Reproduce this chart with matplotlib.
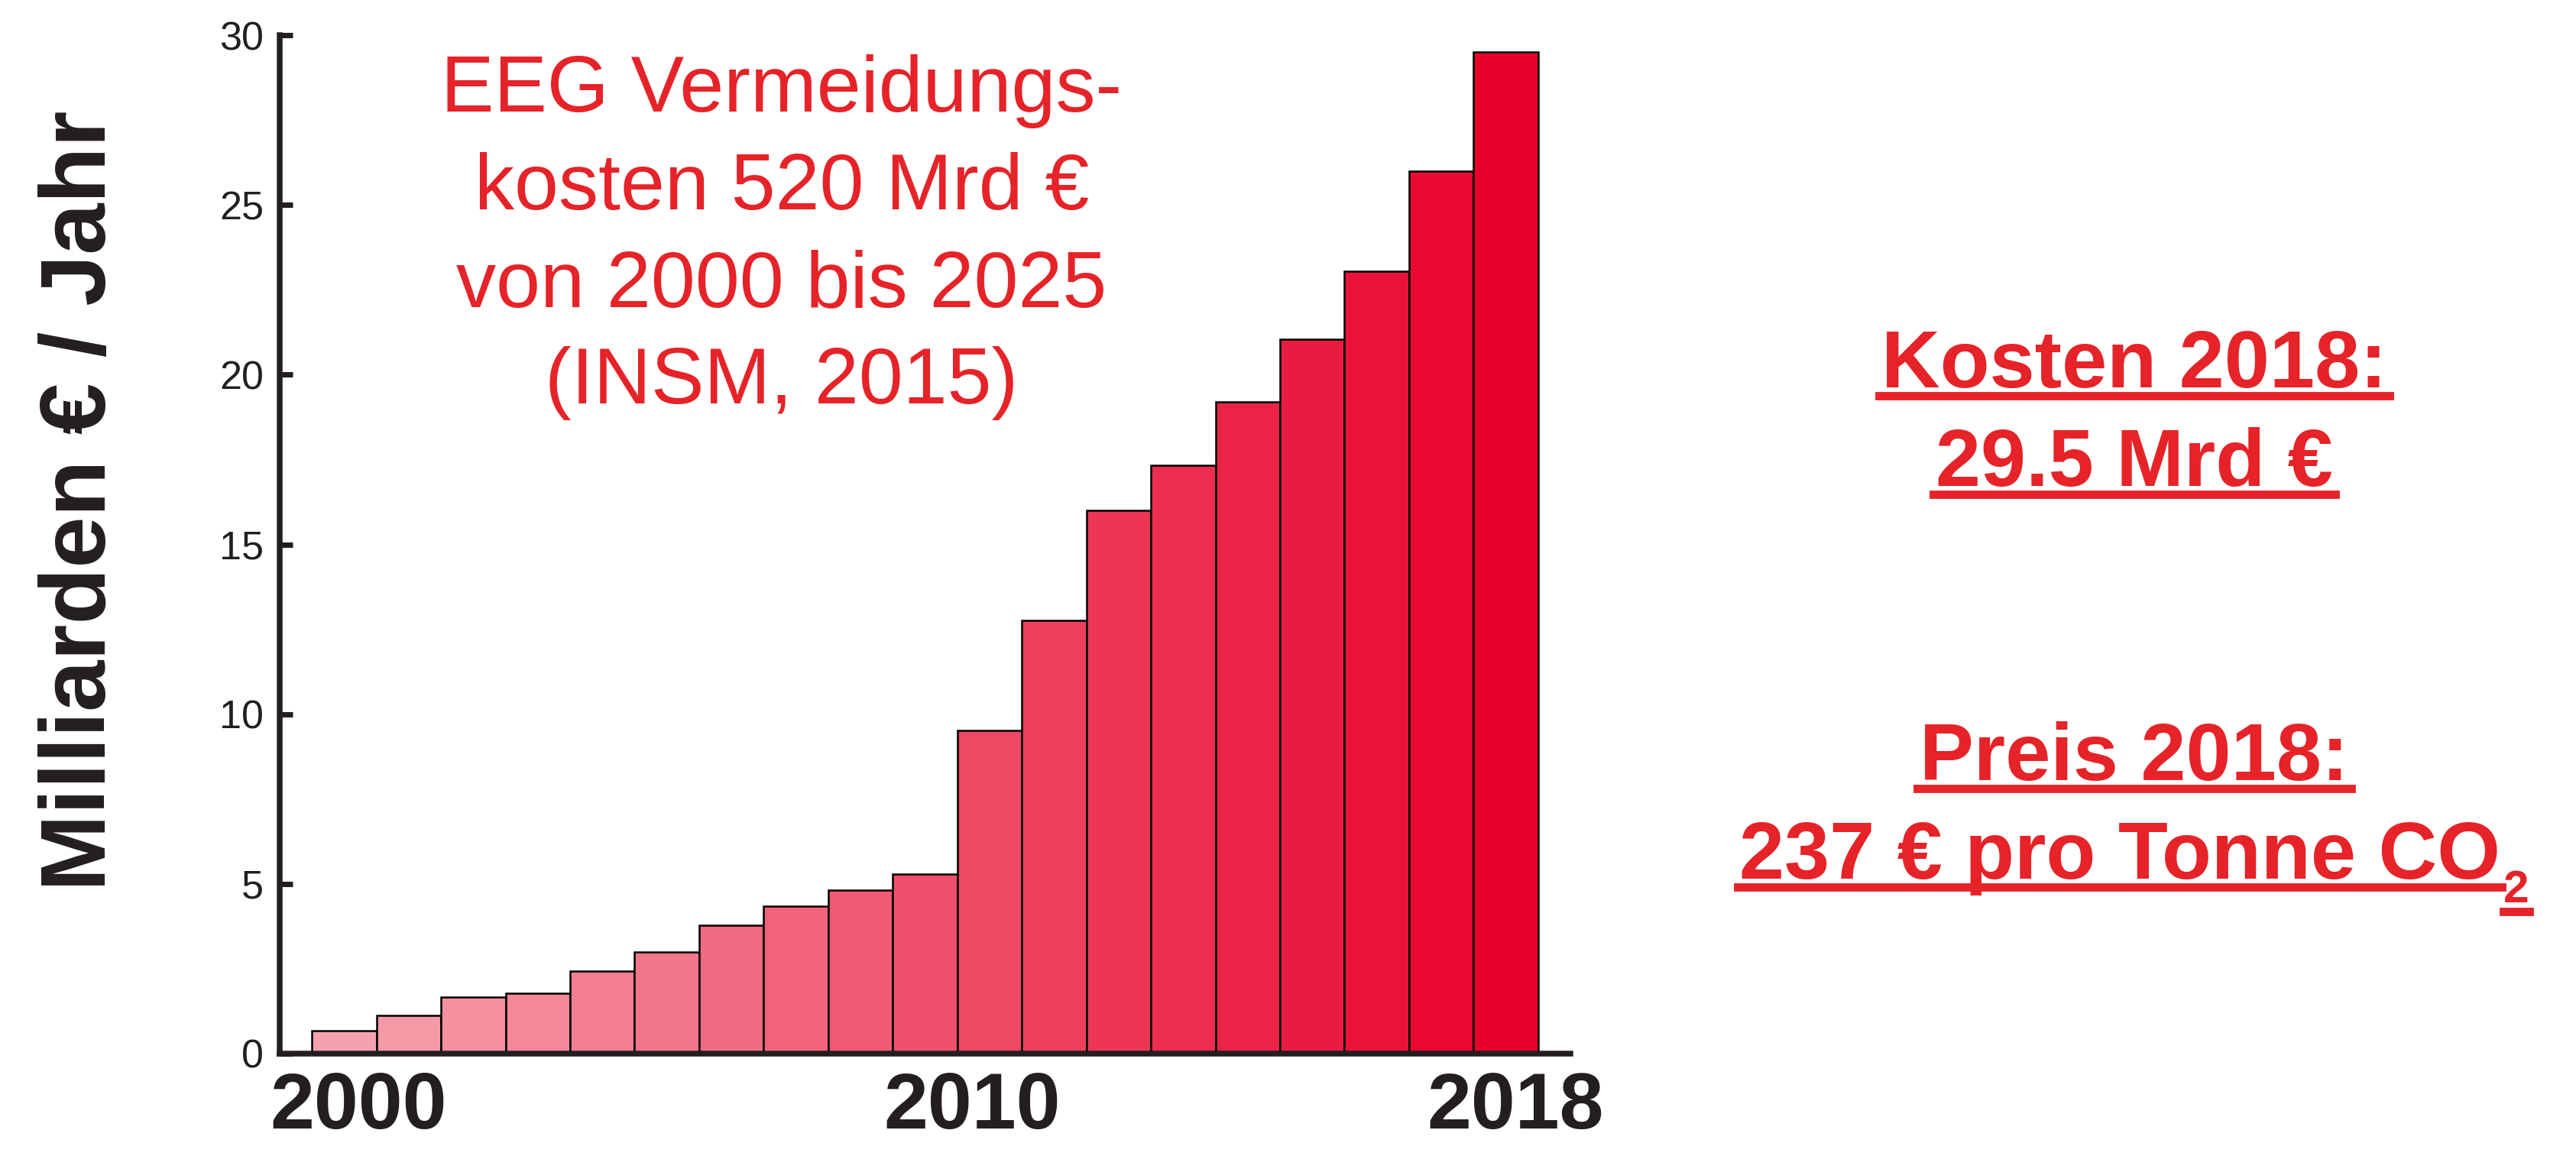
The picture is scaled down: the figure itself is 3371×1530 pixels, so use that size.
import numpy as np
import matplotlib
matplotlib.use("Agg")
import matplotlib.pyplot as plt
from matplotlib.lines import Line2D
from matplotlib.transforms import ScaledTranslation

plt.rcParams['font.family'] = ['Liberation Sans', 'DejaVu Sans']

# EEG Kosten pro Jahr (Mrd Euro)
years = list(range(2000, 2019))
kosten = [0.68, 1.13, 1.66, 1.77, 2.43, 2.99, 3.77, 4.34, 4.82, 5.30,
          9.51, 12.76, 16.0, 17.32, 19.2, 21.05, 23.05, 26.0, 29.5]
xtick_years = [2000, 2010, 2018]
yticks = [0, 5, 10, 15, 20, 25, 30]

dark = '#231F20'
red = '#E52328'
c_start = np.array([246, 162, 174]) / 255.0
c_end = np.array([232, 0, 42]) / 255.0

W, H = 3371, 1530
fig = plt.figure(figsize=(W / 300, H / 300), dpi=300)
ax = fig.add_axes([366 / W, 1 - 1379 / H, (2055 - 366) / W, (1379 - 46) / H])

n = len(years)
colors = [c_start + (c_end - c_start) * i / (n - 1) for i in range(n)]
ax.bar(years, kosten, width=1.0, color=colors, edgecolor='black', linewidth=0.6, zorder=2)

ax.set_xlim(1999, 2019)
ax.set_ylim(0, 30)
ax.set_yticks(yticks)
ax.set_xticks(xtick_years)
ax.set_xticklabels([str(y) for y in xtick_years], fontsize=25, fontweight='bold', color=dark)
ax.tick_params(axis='y', direction='in', length=4, width=1.7, color=dark, labelsize=12.5,
               labelcolor=dark, pad=5)
ax.tick_params(axis='x', length=0, pad=5.5)
for s in ['top', 'right']:
    ax.spines[s].set_visible(False)
for s in ['left', 'bottom']:
    ax.spines[s].set_color(dark)
    ax.spines[s].set_linewidth(1.8)
    ax.spines[s].set_zorder(3)

# Jahreszahlen sitzen im Original nicht ganz mittig unter den Balken
shifts = [19, -23, 13]
for lab, dx in zip(ax.get_xticklabels(), shifts):
    lab.set_transform(lab.get_transform() + ScaledTranslation(dx / 300, 0, fig.dpi_scale_trans))

# y-Achsenbeschriftung
fig.text(138 / W, 1 - 655 / H, 'Milliarden € / Jahr', rotation=90, rotation_mode='anchor',
         ha='center', va='baseline', fontsize=29, fontweight='bold', color=dark)

# Text oben links
lines = ['EEG Vermeidungs-', 'kosten 520 Mrd €', 'von 2000 bis 2025', '(INSM, 2015)']
base_y = [146, 274, 401, 528]
for t, b in zip(lines, base_y):
    fig.text(1023 / W, 1 - b / H, t, ha='center', va='baseline', fontsize=25, color=red)

# Text rechts, unterstrichen
renderer = fig.canvas.get_renderer()


def underline(txt, off=11, ext=3, lw=2.6):
    bb = txt.get_window_extent(renderer=renderer)
    x0, y = txt.get_position()
    yl = y - off / H
    fig.add_artist(Line2D([(bb.x0 - ext) / W, (bb.x1 + ext) / W], [yl, yl],
                          transform=fig.transFigure, color=red, linewidth=lw))
    return bb


right = [('Kosten 2018:', 507), ('29.5 Mrd €', 636), ('Preis 2018:', 1021)]
for t, b in right:
    tx = fig.text(2793 / W, 1 - b / H, t, ha='center', va='baseline', fontsize=25.5,
                  fontweight='bold', color=red)
    underline(tx)

tx = fig.text(2774 / W, 1 - 1150 / H, '237 € pro Tonne CO', ha='center', va='baseline',
              fontsize=25.5, fontweight='bold', color=red)
bb = underline(tx, ext=2)
sub = fig.text((bb.x1 + 4) / W, 1 - 1181 / H, '2', ha='left', va='baseline',
               fontsize=14.5, fontweight='bold', color=red)
underline(sub, off=12, ext=0)

fig.savefig('out.png', dpi=300)
